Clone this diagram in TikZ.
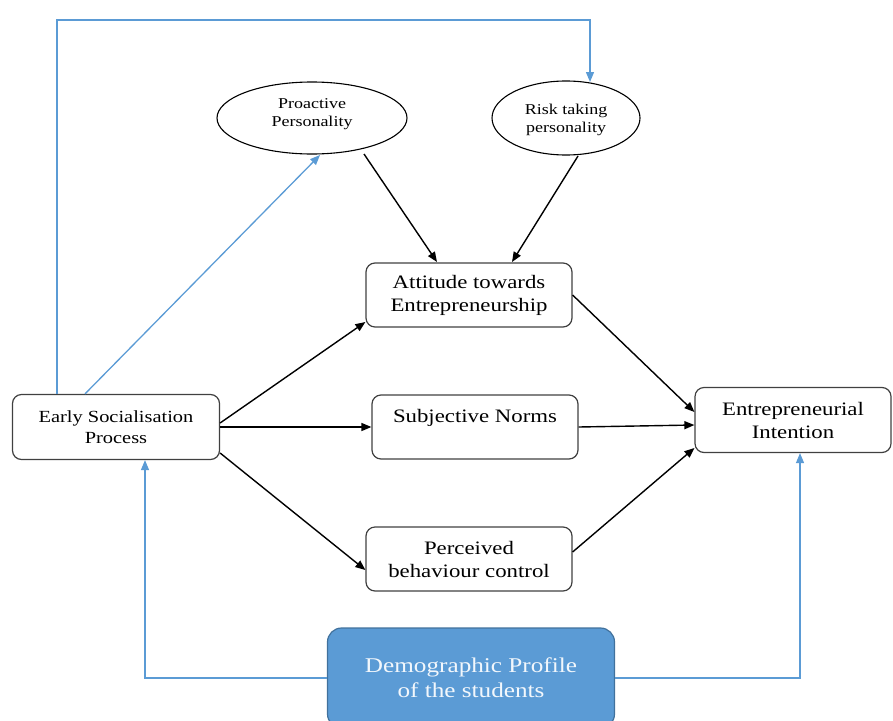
\documentclass[tikz,border=0pt]{standalone}
\usepackage{fontspec}
\setmainfont{Liberation Serif}
\newfontfamily\widefont[FakeStretch=1.2]{Liberation Serif}
\usetikzlibrary{arrows.meta,shapes.geometric}
\definecolor{lblue}{HTML}{5B9BD5}
\definecolor{dblue}{HTML}{41719C}
\begin{document}
\begin{tikzpicture}[x=1pt,y=-1pt,
  rbox/.style={draw=black!75,line width=1.2pt,rounded corners=9pt,align=center,font=\widefont\fontsize{19}{23}\selectfont,inner sep=0pt},
  ell/.style={draw=black,line width=1.1pt,ellipse,align=center,font=\widefont\fontsize{15}{18}\selectfont,inner sep=0pt},
  blk/.style={-{Triangle[length=10pt,width=8pt]},line width=1.4pt,black},
  blu/.style={-{Triangle[length=10pt,width=8pt]},line width=1.3pt,lblue}]
\useasboundingbox (0,0) rectangle (893,720);
\node[ell,minimum width=190pt,minimum height=72pt,text depth=10pt] (pro) at (312,118) {Proactive\\Personality};
\node[ell,minimum width=148pt,minimum height=74pt,text depth=-6pt] (risk) at (566,118) {Risk taking\\personality};
\node[rbox,minimum width=206pt,minimum height=64pt] (att) at (469,295) {Attitude towards\\Entrepreneurship};
\node[rbox,minimum width=206pt,minimum height=64pt,text depth=22pt] (sub) at (475,427) {Subjective Norms};
\node[rbox,minimum width=206pt,minimum height=64pt] (per) at (469,559) {Perceived\\behaviour control};
\node[rbox,minimum width=207pt,minimum height=65pt,font=\widefont\fontsize{17}{21}\selectfont] (early) at (116,427) {Early Socialisation\\Process};
\node[rbox,minimum width=196pt,minimum height=65pt] (int) at (793,420) {Entrepreneurial\\Intention};
\node[draw=dblue,fill=lblue,line width=1.2pt,rounded corners=14pt,minimum width=287pt,minimum height=100pt,align=center,text=white!92!lblue,font=\widefont\fontsize{21}{25}\selectfont,inner sep=0pt] (demo) at (471,678) {Demographic Profile\\of the students};
\coordinate (tl) at (57,20);
\coordinate (tr) at (590,20);
\coordinate (rtop) at (590,82);
\coordinate (ptop) at (320,155);
% black arrows
\draw[blk] (364,154) -- (437,262);
\draw[blk] (578,156) -- (512,262);
\draw[blk] ([yshift=4pt]early.east) -- ([yshift=-27pt]att.west);
\draw[blk] (early.east) -- (sub.west);
\draw[blk] ([yshift=-26pt]early.east) -- ([yshift=-11pt]per.west);
\draw[blk] (att.east) -- ([yshift=8pt]int.west);
\draw[blk] (sub.east) -- ([yshift=-5pt]int.west);
\draw[blk] ([yshift=7pt]per.east) -- ([yshift=-28pt]int.west);
% blue connectors
\draw[blu] ([xshift=-31pt]early.north) -- (ptop);
\draw[blu] ([xshift=-59pt]early.north) -- (tl) -- (tr) -- (rtop);
\draw[blu] (demo.west) -| ([xshift=29pt]early.south);
\draw[blu] (demo.east) -| ([xshift=7pt]int.south);
\end{tikzpicture}
\end{document}
